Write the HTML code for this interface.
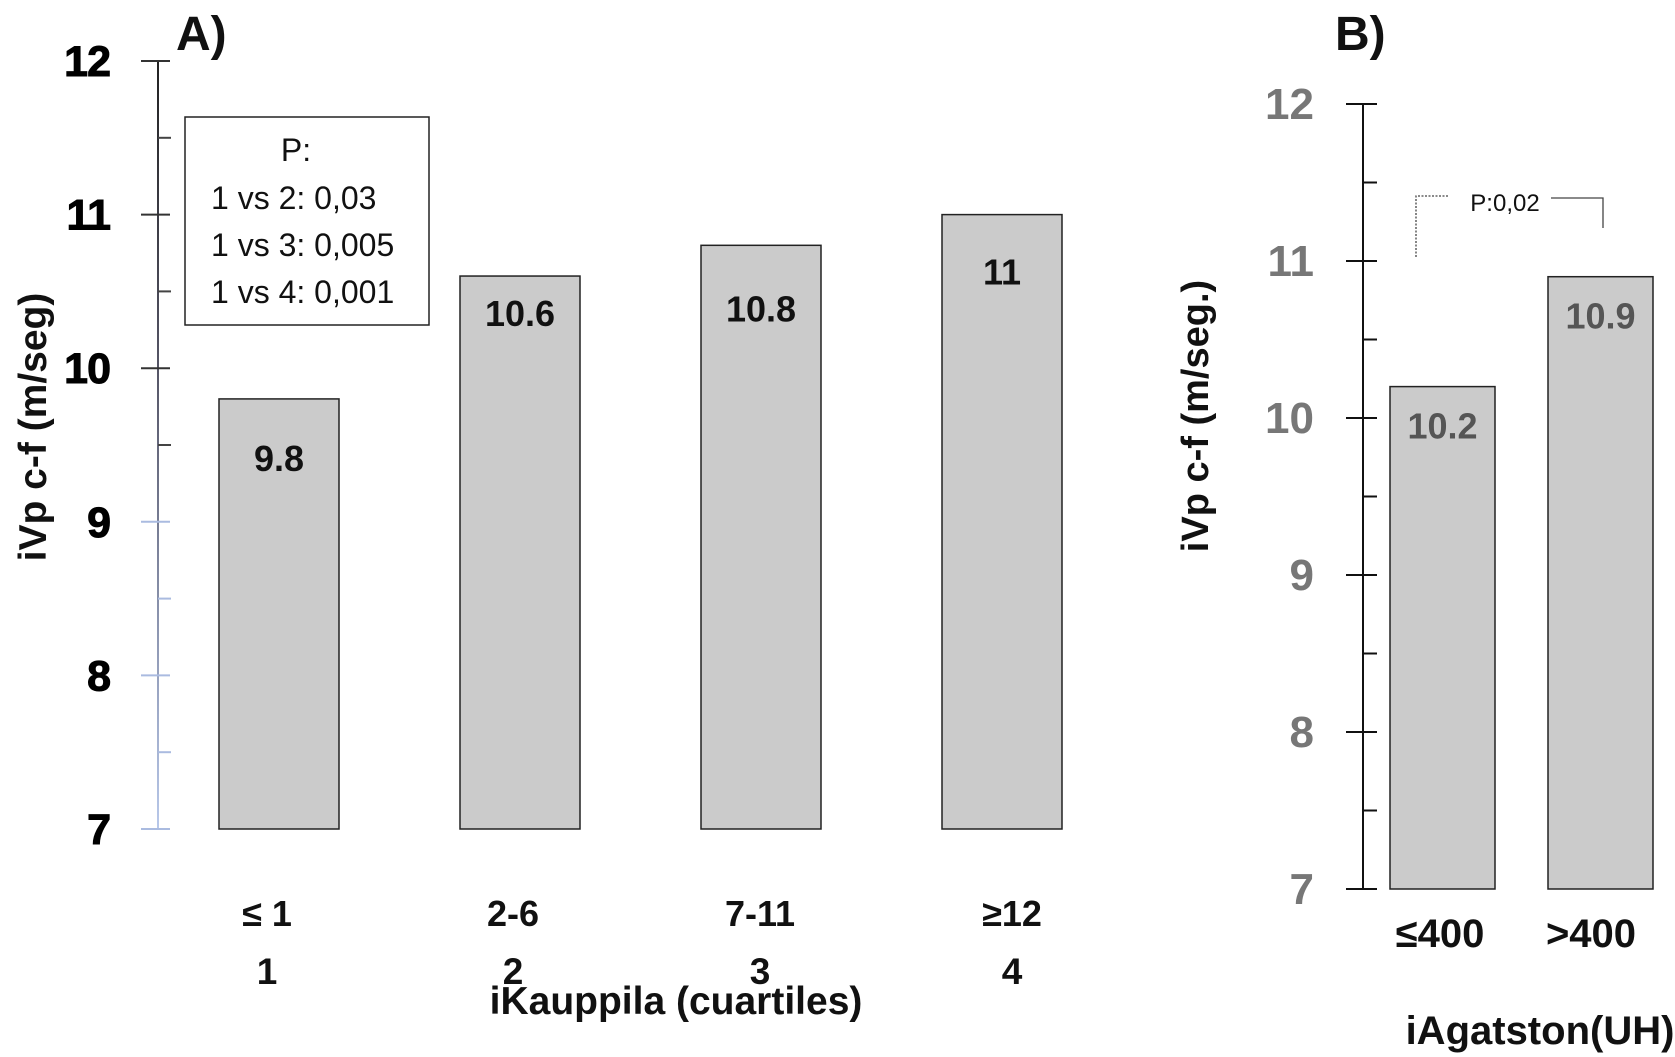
<!DOCTYPE html>
<html><head><meta charset="utf-8"><style>
html,body{margin:0;padding:0;background:#fff;}
svg{display:block;font-family:"Liberation Sans",sans-serif;}
</style></head><body>
<svg id="chart" width="1675" height="1057" viewBox="0 0 1675 1057" xmlns="http://www.w3.org/2000/svg">
<defs><linearGradient id="axg" gradientUnits="userSpaceOnUse" x1="0" y1="61" x2="0" y2="829"><stop offset="0" stop-color="#222"/><stop offset="0.4" stop-color="#556"/><stop offset="1" stop-color="#b8c8ea"/></linearGradient></defs>
<g id="A"></g>
<g id="B"></g>
</svg>
<script>
const catsA = ["≤ 1","2-6","7-11","≥12"];
const quartA = ["1","2","3","4"];
const valsA = [9.8,10.6,10.8,11];
const ticksA = [7,8,9,10,11,12];
const catsB = ["≤400",">400"];
const valsB = [10.2,10.9];
const ticksB = [7,8,9,10,11,12];
const NS="http://www.w3.org/2000/svg";
function mk(p,tag,at,txt){const e=document.createElementNS(NS,tag);for(const k in at)e.setAttribute(k,at[k]);if(txt!==undefined)e.textContent=txt;p.appendChild(e);return e;}
// Panel A
const A=document.getElementById('A');
const yA=v=>829-(v-7)*153.6;
const axA=mk(A,'rect',{x:157,y:yA(12),width:2,height:yA(7)-yA(12),fill:'url(#axg)'});

ticksA.forEach((t,i)=>{
 const c=t<9.5?'#aabbe0':'#333';
 mk(A,'line',{x1:141,y1:yA(t),x2:170,y2:yA(t),stroke:c,'stroke-width':2});
 if(t<12) mk(A,'line',{x1:158,y1:yA(t+0.5),x2:171,y2:yA(t+0.5),stroke:t<9?'#aabbe0':'#444','stroke-width':2});
 const l=mk(A,'text',{x:110,y:yA(t)+15,'text-anchor':'end','font-size':43,'font-weight':'bold',fill:'#000',stroke:'#000','stroke-width':1,'letter-spacing':-1},String(t));
 
});
const bxA=[219,460,701,942], bw=120;
const labOffA=[72,50,76,70];
valsA.forEach((v,i)=>{
 const r=mk(A,'rect',{x:bxA[i],y:yA(v),width:bw,height:yA(7)-yA(v),fill:'#cbcbcb',stroke:'#222','stroke-width':1.5});
 
 const t=mk(A,'text',{x:bxA[i]+bw/2,y:yA(v)+labOffA[i],'text-anchor':'middle','font-size':36,'font-weight':'bold',fill:'#111'},String(v));
 
 const cx=[267,513,760,1012][i];
 const c=mk(A,'text',{x:cx,y:926,'text-anchor':'middle','font-size':36,'font-weight':'bold',fill:'#111'},catsA[i]);
 
 const q=mk(A,'text',{x:cx,y:984,'text-anchor':'middle','font-size':37,'font-weight':'bold',fill:'#111'},quartA[i]);
 
});
const boxA=mk(A,'rect',{x:185,y:117,width:244,height:208,fill:'#fff',stroke:'#222','stroke-width':1.5});

["P:","1 vs 2: 0,03","1 vs 3: 0,005","1 vs 4: 0,001"].forEach((s,i)=>{
 const t=mk(A,'text',{x:i==0?296:211,y:[161,209,256,303][i],'text-anchor':i==0?'middle':'start','font-size':32,fill:'#111'},s);
 
});
let e;
e=mk(A,'text',{x:176,y:50,'font-size':48,'font-weight':'bold',fill:'#111'},'A)');
e=mk(A,'text',{x:676,y:1014,'text-anchor':'middle','font-size':39,'font-weight':'bold',fill:'#111'},'iKauppila (cuartiles)');
e=mk(A,'text',{x:0,y:0,transform:'translate(46,427) rotate(-90)','text-anchor':'middle','font-size':39,'font-weight':'bold',fill:'#111'},'iVp c-f (m/seg)');
// Panel B
const B=document.getElementById('B');
const yB=v=>889-(v-7)*157;
e=mk(B,'line',{x1:1363,y1:yB(12),x2:1363,y2:yB(7),stroke:'#111','stroke-width':2});
ticksB.forEach(t=>{
 mk(B,'line',{x1:1346,y1:yB(t),x2:1377,y2:yB(t),stroke:'#111','stroke-width':2});
 if(t<12) mk(B,'line',{x1:1363,y1:yB(t+0.5),x2:1377,y2:yB(t+0.5),stroke:'#111','stroke-width':2});
 const l=mk(B,'text',{x:1314,y:yB(t)+15,'text-anchor':'end','font-size':44,'font-weight':'bold',fill:'#777'},String(t));
 
});
const bxB=[1390,1548], bwB=105, cxB=[1440,1591];
valsB.forEach((v,i)=>{
 const r=mk(B,'rect',{x:bxB[i],y:yB(v),width:bwB,height:yB(7)-yB(v),fill:'#cbcbcb',stroke:'#222','stroke-width':1.5});
 
 const t=mk(B,'text',{x:bxB[i]+bwB/2,y:yB(v)+52,'text-anchor':'middle','font-size':36,'font-weight':'bold',fill:'#555'},String(v));
 
 const c=mk(B,'text',{x:cxB[i],y:947,'text-anchor':'middle','font-size':40,'font-weight':'bold',fill:'#111'},catsB[i]);
 
});
mk(B,'polyline',{points:'1416,257 1416,196 1449,196',fill:'none',stroke:'#444','stroke-width':1.3,'stroke-dasharray':'2,1.5'});
mk(B,'polyline',{points:'1551,198 1603,198 1603,228',fill:'none',stroke:'#444','stroke-width':1.3});
e=mk(B,'text',{x:1505,y:211,'text-anchor':'middle','font-size':24,fill:'#111'},'P:0,02');
e=mk(B,'text',{x:1335,y:50,'font-size':48,'font-weight':'bold',fill:'#111'},'B)');
e=mk(B,'text',{x:1540,y:1044,'text-anchor':'middle','font-size':40,'font-weight':'bold',fill:'#111'},'iAgatston(UH)');
e=mk(B,'text',{x:0,y:0,transform:'translate(1208,416) rotate(-90)','text-anchor':'middle','font-size':38,'font-weight':'bold',fill:'#111'},'iVp c-f (m/seg.)');
</script>
</body></html>
